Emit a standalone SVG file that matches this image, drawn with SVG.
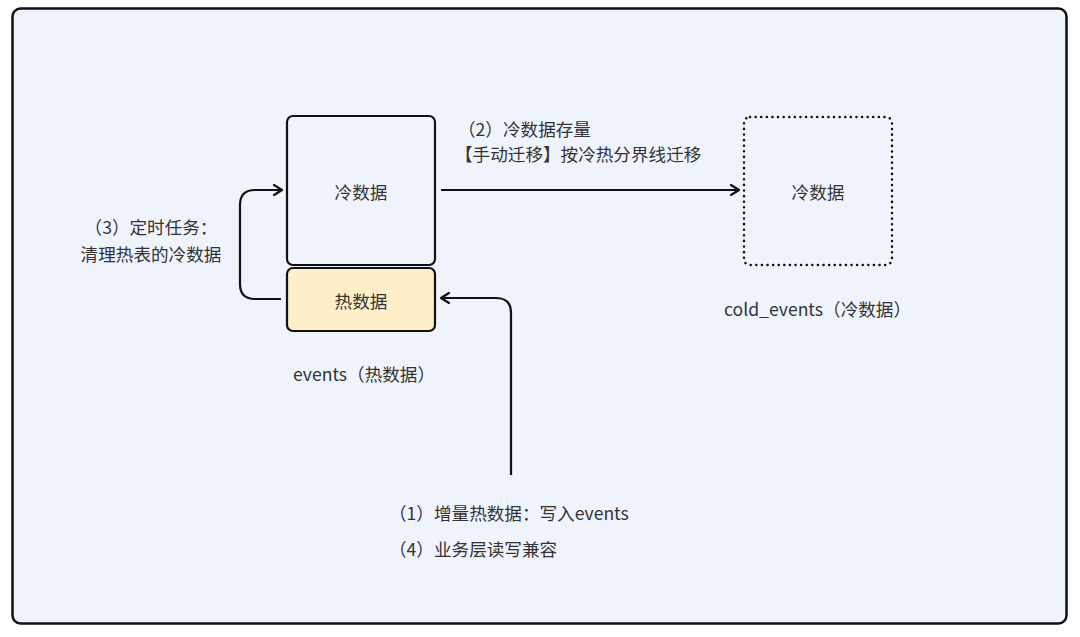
<svg xmlns="http://www.w3.org/2000/svg" width="1080" height="637" viewBox="0 0 1080 637">
<style>
text{font-family:"Noto Sans CJK SC","Noto Sans",sans-serif;font-size:17.6px;fill:#333;}
.c{text-anchor:middle;dominant-baseline:central;}
.box{stroke:#111;stroke-width:2.2;}
.conn{fill:none;stroke:#111;stroke-width:2.2;stroke-linejoin:round;}
</style>
<defs>
<marker id="ah" viewBox="0 0 12 12" refX="10" refY="6" markerWidth="12" markerHeight="12" markerUnits="userSpaceOnUse" orient="auto">
<path d="M2,1 L10,6 L2,11" fill="none" stroke="#111" stroke-width="2.2" stroke-linecap="round" stroke-linejoin="round"/>
</marker>
</defs>
<rect x="0" y="0" width="1080" height="637" fill="#ffffff"/>
<rect x="12.5" y="8.5" width="1054" height="615" rx="8" fill="#eff3fb" stroke="#111" stroke-width="2.5"/>
<g id="cold-box">
<rect class="box" x="287" y="116" width="148" height="149" rx="6" fill="#eff3fb"/>
<text class="c" x="361" y="191">冷数据</text>
</g>
<g id="hot-box">
<rect class="box" x="287" y="268" width="148" height="63" rx="6" fill="#fdf0c8"/>
<text class="c" x="361" y="300">热数据</text>
</g>
<g id="events-label">
<text x="293" y="381">events（热数据）</text>
</g>
<g id="cold-events-box">
<rect x="744" y="117" width="148" height="148" rx="6" fill="none" stroke="#111" stroke-width="2.5" stroke-dasharray="0.1 5.5" stroke-linecap="round"/>
<text class="c" x="818" y="191">冷数据</text>
</g>
<g id="cold-events-label">
<text x="724" y="316">cold_events（冷数据）</text>
</g>
<g id="connectors">
<path class="conn" d="M441,190 L739,190" marker-end="url(#ah)"/>
<path class="conn" d="M281,299 L255,299 Q240,299 240,284 L240,205 Q240,190 255,190 L282,190" marker-end="url(#ah)"/>
<path class="conn" d="M511,475 L511,313 Q511,298 496,298 L441,298" marker-end="url(#ah)"/>
</g>
<g id="label-2">
<text x="458" y="136">（2）冷数据存量</text>
<text x="455" y="161">【手动迁移】按冷热分界线迁移</text>
</g>
<g id="label-3">
<text x="151" y="234" text-anchor="middle">（3）定时任务：</text>
<text x="151" y="261" text-anchor="middle">清理热表的冷数据</text>
</g>
<g id="label-1-4">
<text x="389" y="520">（1）增量热数据：写入events</text>
<text x="389" y="556">（4）业务层读写兼容</text>
</g>
</svg>
